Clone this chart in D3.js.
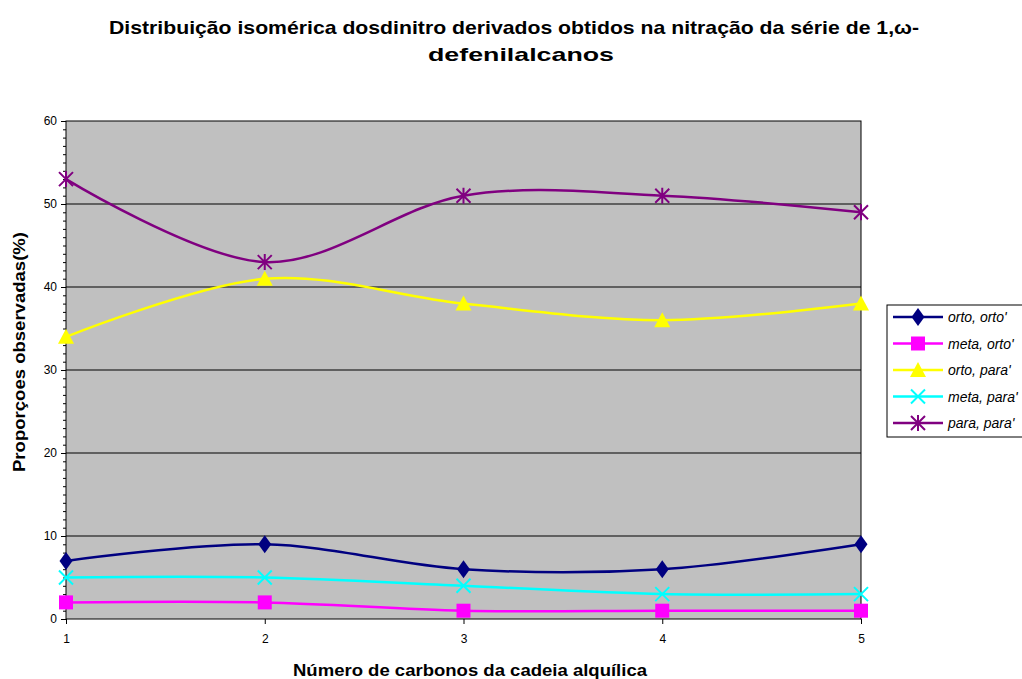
<!DOCTYPE html>
<html>
<head>
<meta charset="utf-8">
<script src="https://cdn.jsdelivr.net/npm/d3@7"></script>
<style>
  body { margin: 0; background: #fff; }
  text { font-family: Arial, "Liberation Sans", sans-serif; }
</style>
</head>
<body>
<svg id="canvas" width="1022" height="679"></svg>
<script>
let carbons = [1, 2, 3, 4, 5]
let yTicks = [0, 10, 20, 30, 40, 50, 60]

let ortoOrto = [7, 9, 6, 6, 9]
let metaOrto = [2, 2, 1, 1, 1]
let ortoPara = [34, 41, 38, 36, 38]
let metaPara = [5, 5, 4, 3, 3]
let paraPara = [53, 43, 51, 51, 49]

let seriesNames = ['orto, orto\'', 'meta, orto\'', 'orto, para\'', 'meta, para\'', 'para, para\'']
let seriesColors = ['#000080', '#FF00FF', '#FFFF00', '#00FFFF', '#800080']
let seriesMarkers = ['diamond', 'square', 'triangle', 'x', 'star']

let series = [ortoOrto, metaOrto, ortoPara, metaPara, paraPara].map((values, i) => ({
  name: seriesNames[i], color: seriesColors[i], marker: seriesMarkers[i], values: values
}))

let canvas = d3.select('#canvas')

let plot = { left: 66, right: 861, top: 121, bottom: 619 }

let x = d3.scaleLinear().domain([1, 5]).range([plot.left, plot.right])
let y = d3.scaleLinear().domain([0, 60]).range([plot.bottom, plot.top])

// title (the original is a bit stretched sideways, so fit widths)
let title = canvas.append('text')
  .attr('text-anchor', 'middle')
  .style('font-size', '19px').style('font-weight', 'bold')
title.append('tspan').attr('x', 514).attr('y', 34)
  .attr('textLength', 810).attr('lengthAdjust', 'spacingAndGlyphs')
  .text('Distribuição isomérica dosdinitro derivados obtidos na nitração da série de 1,ω-')
title.append('tspan').attr('x', 521).attr('y', 61)
  .attr('textLength', 186).attr('lengthAdjust', 'spacingAndGlyphs')
  .text('defenilalcanos')

// plot area
canvas.append('rect')
  .attr('x', plot.left).attr('y', plot.top)
  .attr('width', plot.right - plot.left).attr('height', plot.bottom - plot.top)
  .attr('fill', '#C0C0C0')

// gridlines
canvas.append('g')
  .selectAll('line')
  .data(yTicks.filter(d => d > 0 && d < 60))
  .enter()
  .append('line')
  .attr('x1', plot.left).attr('x2', plot.right)
  .attr('y1', d => y(d)).attr('y2', d => y(d))
  .attr('stroke', '#000').attr('stroke-width', 1)

canvas.append('rect')
  .attr('x', plot.left).attr('y', plot.top)
  .attr('width', plot.right - plot.left).attr('height', plot.bottom - plot.top)
  .attr('fill', 'none').attr('stroke', '#000').attr('stroke-width', 1)

// y axis
let yAxis = d3.axisLeft(y).tickValues(yTicks).tickSize(5).tickPadding(4)
let yG = canvas.append('g').attr('transform', 'translate(' + plot.left + ',0)').call(yAxis)
yG.select('.domain').remove()
yG.selectAll('text').style('font-size', '12px').style('font-family', 'Arial, "Liberation Sans", sans-serif')

let yMinor = d3.axisLeft(y).ticks(60).tickSize(3).tickFormat('')
let yMinorG = canvas.append('g').attr('transform', 'translate(' + plot.left + ',0)').call(yMinor)
yMinorG.select('.domain').remove()

// x axis
let xAxis = d3.axisBottom(x).tickValues(carbons).tickFormat(d3.format('d')).tickSize(5).tickPadding(10)
let xG = canvas.append('g').attr('transform', 'translate(0,' + plot.bottom + ')').call(xAxis)
xG.select('.domain').remove()
xG.selectAll('text').style('font-size', '12px').style('font-family', 'Arial, "Liberation Sans", sans-serif')

// axis titles
canvas.append('text')
  .attr('x', 470).attr('y', 676)
  .attr('text-anchor', 'middle')
  .attr('textLength', 354).attr('lengthAdjust', 'spacingAndGlyphs')
  .style('font-size', '17px').style('font-weight', 'bold')
  .text('Número de carbonos da cadeia alquílica')

canvas.append('text')
  .attr('transform', 'translate(25,352) rotate(-90)')
  .attr('text-anchor', 'middle')
  .attr('textLength', 240).attr('lengthAdjust', 'spacingAndGlyphs')
  .style('font-size', '17px').style('font-weight', 'bold')
  .text('Proporçoes observadas(%)')

// markers
let drawMarker = (g, type, color, cx, cy) => {
  if (type === 'diamond') {
    g.append('path').attr('d', 'M' + cx + ',' + (cy - 9) + 'L' + (cx + 6.5) + ',' + cy + 'L' + cx + ',' + (cy + 9) + 'L' + (cx - 6.5) + ',' + cy + 'Z').attr('fill', color)
  } else if (type === 'square') {
    g.append('rect').attr('x', cx - 7).attr('y', cy - 7).attr('width', 14).attr('height', 14).attr('fill', color)
  } else if (type === 'triangle') {
    g.append('path').attr('d', 'M' + cx + ',' + (cy - 8) + 'L' + (cx + 8) + ',' + (cy + 7) + 'L' + (cx - 8) + ',' + (cy + 7) + 'Z').attr('fill', color)
  } else if (type === 'x') {
    g.append('path').attr('d', 'M' + (cx - 7) + ',' + (cy - 7) + 'L' + (cx + 7) + ',' + (cy + 7) + 'M' + (cx + 7) + ',' + (cy - 7) + 'L' + (cx - 7) + ',' + (cy + 7))
      .attr('stroke', color).attr('stroke-width', 2).attr('fill', 'none')
  } else if (type === 'star') {
    g.append('path').attr('d', 'M' + (cx - 7) + ',' + (cy - 7) + 'L' + (cx + 7) + ',' + (cy + 7) + 'M' + (cx + 7) + ',' + (cy - 7) + 'L' + (cx - 7) + ',' + (cy + 7) + 'M' + cx + ',' + (cy - 8) + 'L' + cx + ',' + (cy + 8))
      .attr('stroke', color).attr('stroke-width', 2).attr('fill', 'none')
  }
}

let line = d3.line()
  .x((d, i) => x(carbons[i]))
  .y(d => y(d))
  .curve(d3.curveCardinal.tension(0))

series.forEach(s => {
  canvas.append('path')
    .datum(s.values)
    .attr('d', line)
    .attr('fill', 'none')
    .attr('stroke', s.color)
    .attr('stroke-width', 2.5)
  let g = canvas.append('g')
  s.values.forEach((v, i) => drawMarker(g, s.marker, s.color, x(carbons[i]), y(v)))
})

// legend
let legend = canvas.append('g')
legend.append('rect')
  .attr('x', 887).attr('y', 305).attr('width', 140).attr('height', 132)
  .attr('fill', '#fff').attr('stroke', '#000').attr('stroke-width', 1)

series.forEach((s, i) => {
  let ly = 317 + i * 26.5
  legend.append('line')
    .attr('x1', 893).attr('x2', 943).attr('y1', ly).attr('y2', ly)
    .attr('stroke', s.color).attr('stroke-width', 2.5)
  drawMarker(legend, s.marker, s.color, 918, ly)
  legend.append('text')
    .attr('x', 948).attr('y', ly + 5)
    .style('font-size', '14px').style('font-style', 'italic')
    .text(s.name)
})
</script>
</body>
</html>
